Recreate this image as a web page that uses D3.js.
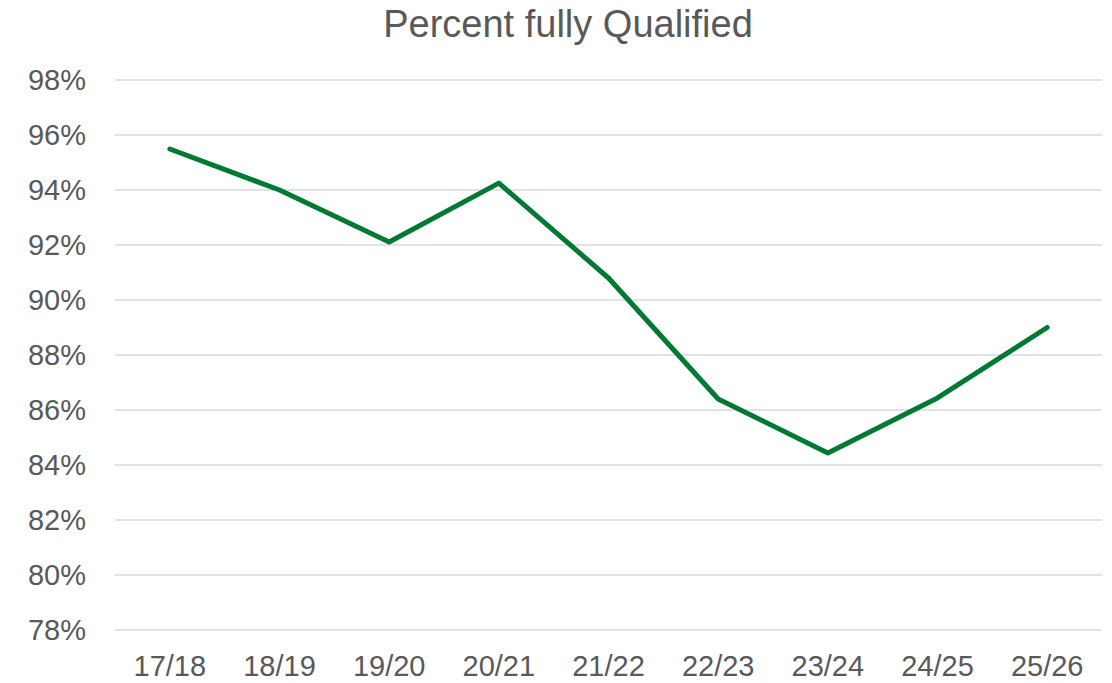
<!DOCTYPE html>
<html>
<head>
<meta charset="utf-8">
<title>Percent fully Qualified</title>
<style>
  body { margin: 0; background: #fff; }
  text { font-family: "Liberation Sans", Arial, sans-serif; fill: #595959; }
  .grid line { stroke: #d9d9d9; stroke-width: 1.5px; }
  .line { fill: none; stroke: #007a33; stroke-width: 5px; stroke-linejoin: round; stroke-linecap: round; }
</style>
<script src="https://cdn.jsdelivr.net/npm/d3@7"></script>
</head>
<body>
<svg width="1112" height="683"></svg>
<script>
var years = ["17/18", "18/19", "19/20", "20/21", "21/22", "22/23", "23/24", "24/25", "25/26"];
var pct = [95.49, 94.0, 92.11, 94.25, 90.8, 86.4, 84.44, 86.44, 89.0];
var yTicks = [78, 80, 82, 84, 86, 88, 90, 92, 94, 96, 98];

var svg = d3.select("svg"),
    margin = {top: 80, right: 10, bottom: 53, left: 115},
    width = +svg.attr("width") - margin.left - margin.right,
    height = +svg.attr("height") - margin.top - margin.bottom,
    g = svg.append("g").attr("transform", "translate(" + margin.left + "," + margin.top + ")");

var x = d3.scaleBand().domain(years).range([0, width]);
var y = d3.scaleLinear().domain([78, 98]).range([height, 0]);

// gridlines
g.append("g")
    .attr("class", "grid")
  .selectAll("line")
  .data(yTicks)
  .enter().append("line")
    .attr("x1", 0)
    .attr("x2", width)
    .attr("y1", function(d) { return y(d); })
    .attr("y2", function(d) { return y(d); });

// y labels
g.append("g")
  .selectAll("text")
  .data(yTicks)
  .enter().append("text")
    .attr("x", -29)
    .attr("y", function(d) { return y(d); })
    .attr("dy", "0.36em")
    .attr("text-anchor", "end")
    .attr("font-size", 29)
    .text(function(d) { return d + "%"; });

// x labels
g.append("g")
  .selectAll("text")
  .data(years)
  .enter().append("text")
    .attr("x", function(d) { return x(d) + x.bandwidth() / 2; })
    .attr("y", height + 46)
    .attr("text-anchor", "middle")
    .attr("font-size", 29)
    .text(function(d) { return d; });

var line = d3.line()
    .x(function(d, i) { return x(years[i]) + x.bandwidth() / 2; })
    .y(function(d) { return y(d); });

g.append("path")
    .datum(pct)
    .attr("class", "line")
    .attr("d", line);

svg.append("text")
    .attr("x", 568)
    .attr("y", 37)
    .attr("text-anchor", "middle")
    .attr("font-size", 38)
    .text("Percent fully Qualified");
</script>
</body>
</html>
